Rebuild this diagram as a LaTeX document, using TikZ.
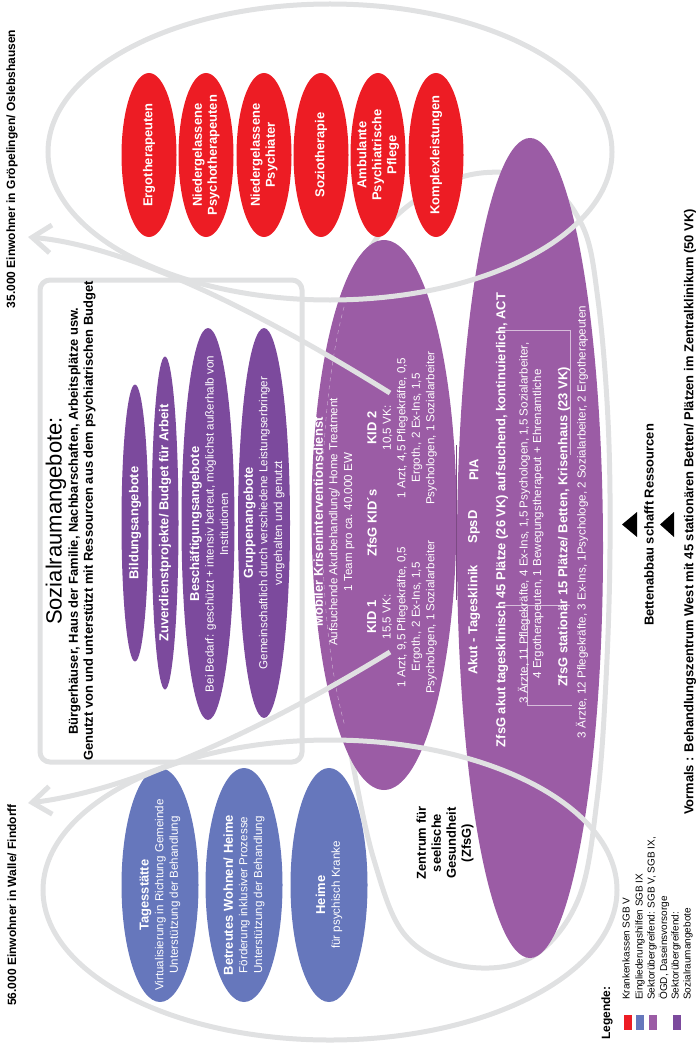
\documentclass[tikz,border=0pt]{standalone}
\usepackage{fontspec}
\setmainfont{Liberation Sans}
\usetikzlibrary{shapes.geometric,arrows.meta}

\definecolor{kkrot}{RGB}{237,28,36}
\definecolor{eghblau}{RGB}{102,119,188}
\definecolor{sektlila}{RGB}{155,92,165}
\definecolor{sozlila}{RGB}{124,74,157}
\definecolor{ringgrau}{RGB}{224,225,226}

\newcommand{\schriftklein}{\fontsize{8.7}{10.9}\selectfont}
\newcommand{\schriftfett}{\fontsize{9.7}{11.2}\selectfont\bfseries}
\newcommand{\schriftaussen}{\fontsize{9}{11}\selectfont\bfseries}
\newcommand{\schriftgross}{\fontsize{16.5}{20}\selectfont}
\newcommand{\schriftlegende}{\fontsize{7.5}{9}\selectfont}

\tikzset{
  ring/.style={draw=ringgrau, line width=3.75pt},
  oval/.style={ellipse, draw=none, inner sep=0pt},
  rotoval/.style={oval, fill=kkrot, minimum width=41.25pt, minimum height=123pt},
  blauoval/.style={oval, fill=eghblau, minimum width=57.75pt, minimum height=175.5pt},
  zfsgoval/.style={oval, fill=sektlila},
  sozoval/.style={oval, fill=sozlila},
  hoch/.style={rotate=90, align=center, inner sep=0pt},
  weiss/.style={hoch, text=white},
  pfeil/.style={ring, -{Straight Barb[length=14pt, width=21pt]}},
  tabelle/.style={draw=white!60!sektlila, line width=0.4pt},
  kasten/.style={minimum width=6pt, minimum height=11.25pt, inner sep=0pt}
}

\begin{document}
\begin{tikzpicture}[x=0.75pt, y=-0.75pt]
  \useasboundingbox (0,0) rectangle (697,1045);

  % Ring um das Zentrum fuer seelische Gesundheit
  \draw[ring] plot[smooth cycle, tension=0.6] coordinates {(465,176) (540,180) (582,225)
    (598,300) (608,420) (610,548) (606,680) (597,800) (578,900) (530,958) (462,966)
    (405,935) (374,860) (352,760) (330,640) (320,520) (326,400) (348,295) (392,220)};

  % ZfsG: Kriseninterventionsdienst und Tagesklinik
  \node[zfsgoval, minimum width=108.75pt, minimum height=412.5pt] (mkd) at (384,515) {};
  \node[zfsgoval, minimum width=109.5pt, minimum height=615pt] (tk) at (530,548) {};
  \draw[sektlila!80!black, line width=1pt] (456.5,445) -- (456.5,600);
  \draw[white!55!sektlila, line width=0.3pt, dashed] (384,515) ++(130:62 and 272)
    arc[start angle=130, end angle=230, x radius=62, y radius=272];
  \draw[tabelle] (500,330) -- (570,330) -- (570,455);
  \draw[tabelle] (503,605) -- (570,605);
  \draw[tabelle] (527,605) -- (527,705) -- (572,705);

  \node[weiss, font=\schriftklein] (mkdtitel) at (334,522)
    {{\schriftfett Mobiler Kriseninterventionsdienst}\\Aufsuchende Akutbehandlung/ Home Treatment\\1 Team pro ca. 40.000 EW};
  \node[weiss, font=\schriftfett] (kids) at (372,523) {ZfsG KID´s};
  \node[weiss, font=\schriftklein] (kid1) at (402,617)
    {{\schriftfett KID 1}\\15,5 VK:\\1 Arzt, 9,5 Pflegekräfte, 0,5\\Ergoth., 2 Ex-Ins, 1,5\\Psychologen, 1 Sozialarbeiter};
  \node[weiss, font=\schriftklein] (kid2) at (402,428)
    {{\schriftfett KID 2}\\10,5 VK:\\1 Arzt, 4,5 Pflegekräfte, 0,5\\Ergoth., 2 Ex-Ins, 1,5\\Psychologen, 1 Sozialarbeiter};

  \node[weiss, font=\schriftfett] (akut) at (474,620) {Akut - Tagesklinik};
  \node[weiss, font=\schriftfett] (spsd) at (474,527) {SpsD};
  \node[weiss, font=\schriftfett] (pia) at (474,470) {PIA};
  \node[weiss, font=\schriftfett] (tkz1) at (502,520) {ZfsG akut tagesklinisch 45 Plätze (26 VK) aufsuchend, kontinuierlich, ACT};
  \node[weiss, font=\schriftklein] (tkz2) at (524,523) {3 Ärzte, 11 Pflegekräfte, 4 Ex-Ins, 1,5 Psychologen, 1,5 Sozialarbeiter,};
  \node[weiss, font=\schriftklein] (tkz3) at (538,524) {4 Ergotherapeuten, 1 Bewegungstherapeut + Ehrenamtliche};
  \node[weiss, font=\schriftfett] (tkz4) at (564,527) {ZfsG stationär 15 Plätze/ Betten, Krisenhaus (23 VK)};
  \node[weiss, font=\schriftklein] (tkz5) at (582,522) {3 Ärzte, 12 Pflegekräfte, 3 Ex-Ins, 1Psychologe, 2 Sozialarbeiter, 2 Ergotherapeuten};

  % Krankenkassen SGB V
  \foreach \i/\x/\titel in {1/149/Ergotherapeuten,
      2/206/{Niedergelassene\\Psychotherapeuten},
      3/264/{Niedergelassene\\Psychiater},
      4/321/Soziotherapie,
      5/378/{Ambulante\\Psychiatrische\\Pflege},
      6/436/Komplexleistungen} {
    \node[rotoval] (kk\i) at (\x,155) {};
    \node[weiss, font=\schriftfett] (kkt\i) at (kk\i) {\titel};
  }

  % Eingliederungshilfen SGB IX
  \foreach \i/\x/\titel/\zeile in {1/160/Tagesstätte/{Virtualisierung in Richtung Gemeinde\\Unterstützung der Behandlung},
      2/244/{Betreutes Wohnen/ Heime}/{Förderung inklusiver Prozesse\\Unterstützung der Behandlung},
      3/329/Heime/{für psychisch Kranke}} {
    \node[blauoval] (egh\i) at (\x,885) {};
    \node[weiss, font=\schriftklein] (eght\i) at (\x,895) {{\schriftfett \titel}\\\zeile};
  }

  % Sozialraumangebote
  \node[sozoval, minimum width=20.25pt, minimum height=207.75pt] (bild) at (135,523) {};
  \node[sozoval, minimum width=20.25pt, minimum height=249.75pt] (zuverd) at (165,523) {};
  \node[sozoval, minimum width=39.75pt, minimum height=294pt] (besch) at (208,524) {};
  \node[sozoval, minimum width=39pt, minimum height=292.5pt] (gruppe) at (264,523) {};
  \node[weiss, font=\schriftfett] (bildt) at (bild) {Bildungsangebote};
  \node[weiss, font=\schriftfett] (zuverdt) at (zuverd) {Zuverdienstprojekte/ Budget für Arbeit};
  \node[weiss, font=\schriftklein] (bescht) at (209,524)
    {{\schriftfett Beschäftigungsangebote}\\Bei Bedarf: geschützt + intensiv betreut, möglichst außerhalb von\\Institutionen};
  \node[weiss, font=\schriftklein] (gruppet) at (264,523)
    {{\schriftfett Gruppenangebote}\\Gemeinschaftlich durch verschiedene Leistungserbringer\\vorgehalten und genutzt};

  % Ringe der beiden Regionen
  \draw[ring] (330,152) ellipse [x radius=282, y radius=148];
  \draw[ring] (330,890) ellipse [x radius=287, y radius=150];
  \node[draw=ringgrau, line width=3.75pt, rounded corners=7.5pt,
    minimum width=196.5pt, minimum height=361.5pt] (sozbox) at (171,521) {};
  \node[hoch, font=\schriftgross] (soztitel) at (56,521) {Sozialraumangebote:};
  \node[hoch, font=\schriftfett] (sozzeile) at (82,521)
    {Bürgerhäuser, Haus der Familie, Nachbarschaften, Arbeitsplätze usw.\\Genutzt von und unterstützt mit Ressourcen aus dem psychiatrischen Budget};

  % Teams fuer die Regionen
  \coordinate (kideins) at (390,652);
  \coordinate (kidzwei) at (390,393);
  \coordinate (walle) at (28,803);
  \coordinate (groep) at (28,237);
  \draw[pfeil] (kidzwei) .. controls (246,303) and (120,245) .. (groep);
  \draw[pfeil] (kideins) .. controls (246,740) and (120,792) .. (walle);
  \node[hoch, font=\schriftaussen] (groept) at (12,169) {35.000 Einwohner in Gröpelingen/ Oslebshausen};
  \node[hoch, font=\schriftaussen] (wallet) at (12,905) {56.000 Einwohner in Walle/ Findorff};

  \node[hoch, font=\schriftfett] (zfsgt) at (445,843) {Zentrum für\\seelische\\Gesundheit\\(ZfsG)};

  % Bettenabbau
  \node[hoch, font=\schriftfett] (abbau) at (649,525) {Bettenabbau schafft Ressourcen};
  \fill (622,524.5) -- (637,512) -- (637,537) -- cycle;
  \fill (660,524.5) -- (674,512) -- (674,537) -- cycle;
  \node[hoch, font=\schriftfett] (vormals) at (690,512)
    {Vormals : Behandlungszentrum West mit 45 stationären Betten/ Plätzen im Zentralklinikum (50 VK)};

  % Legende
  \node[hoch, font=\schriftaussen, anchor=west] (legende) at (607,1040) {Legende:};
  \foreach \i/\x/\farbe in {1/627.5/kkrot, 2/639.5/eghblau, 3/652.5/sektlila, 4/676.5/sozlila}
    \node[kasten, fill=\farbe] (lk\i) at (\x,1022.5) {};
  \foreach \i/\x/\titel in {1/626/Krankenkassen SGB V, 2/640/Eingliederungshilfen SGB IX,
      3/652/{Sektorübergreifend: SGB V, SGB IX,}, 4/664/{ÖGD, Daseinsvorsorge},
      5/676/Sektorübergreifend:, 6/688/Sozialraumangebote}
    \node[hoch, font=\schriftlegende, anchor=west] (lt\i) at (\x,1000) {\titel};
\end{tikzpicture}
\end{document}
